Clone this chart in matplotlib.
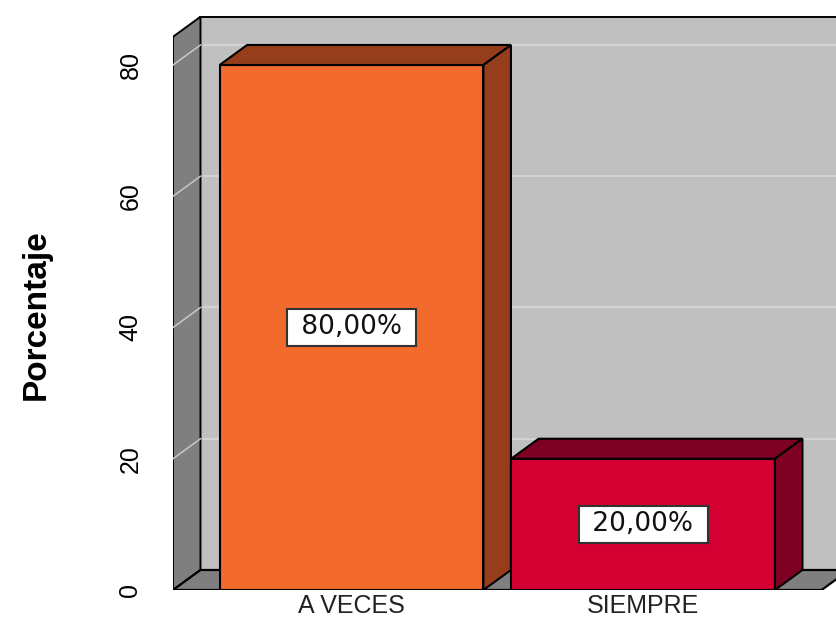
import matplotlib.pyplot as plt
from matplotlib.patches import Polygon

categorias = ['A VECES', 'SIEMPRE']
porcentajes = [80.0, 20.0]
colores_frente = ['#F26A2C', '#D40032']
colores_lado = ['#963E1B', '#7E0022']
marcas_y = [0, 20, 40, 60, 80]

# geometria de la caja 3D (unidades de datos)
ancho = 0.905
dx, dy = 0.0943, 3.05
ymax = 84.3
xlo, xhi = -0.6125, 1.6125

fig = plt.figure(figsize=(8.37, 6.23), dpi=100)
ax = fig.add_axes([173 / 837, 33 / 623, 664 / 837, 590 / 623])
ax.set_xlim(xlo, xlo + 664 / 291.5)
ax.set_ylim(0, 590 / 6.5625)
ax.set_facecolor('none')
for s in ax.spines.values():
    s.set_visible(False)

# pared del fondo
ax.add_patch(Polygon([(xlo + dx, dy), (xhi + dx, dy), (xhi + dx, ymax + dy), (xlo + dx, ymax + dy)],
                     closed=True, fc='#C0C0C0', ec='black', lw=1.4, zorder=1))
for v in marcas_y[1:]:
    ax.plot([xlo + dx, xhi + dx], [v + dy, v + dy], color='#D4D4D4', lw=1.3, zorder=2)

# pared lateral
ax.add_patch(Polygon([(xlo, 0), (xlo + dx, dy), (xlo + dx, ymax + dy), (xlo, ymax)],
                     closed=True, fc='#7F7F7F', ec='black', lw=1.4, zorder=3))
for v in marcas_y[1:]:
    ax.plot([xlo, xlo + dx], [v, v + dy], color='#C8C8C8', lw=1.1, zorder=4)

# suelo
ax.add_patch(Polygon([(xlo, 0), (xhi, 0), (xhi + dx, dy), (xlo + dx, dy)],
                     closed=True, fc='#7F7F7F', ec='black', lw=1.6, zorder=5))

# barras
for i, v in enumerate(porcentajes):
    x0 = i - ancho / 2
    x1 = i + ancho / 2
    z = 6 + i * 3
    ax.add_patch(Polygon([(x0, 0), (x1, 0), (x1, v), (x0, v)],
                         closed=True, fc=colores_frente[i], ec='black', lw=1.5, zorder=z))
    ax.add_patch(Polygon([(x0, v), (x1, v), (x1 + dx, v + dy), (x0 + dx, v + dy)],
                         closed=True, fc=colores_lado[i], ec='black', lw=1.5, zorder=z + 1))
    ax.add_patch(Polygon([(x1, 0), (x1 + dx, dy), (x1 + dx, v + dy), (x1, v)],
                         closed=True, fc=colores_lado[i], ec='black', lw=1.5, zorder=z + 1))
    etiqueta = f'{v:.2f}'.replace('.', ',') + '%'
    ax.text(i, v / 2, ' ' + etiqueta + ' ', ha='center', va='center', fontsize=19,
            family='DejaVu Sans', color='#111111', zorder=20,
            bbox=dict(boxstyle='square,pad=0.22', fc='white', ec='#333333', lw=1.5))

ax.set_yticks(marcas_y)
ax.set_yticklabels([str(m) for m in marcas_y], rotation=90, va='center', fontsize=18,
                   family='Liberation Sans')
ax.tick_params(axis='y', length=0, pad=22)
ax.set_xticks(range(len(categorias)))
ax.set_xticklabels(categorias, fontsize=18, family='Liberation Sans', color='#222222')
ax.tick_params(axis='x', length=0, pad=3)

ax.set_ylabel('Porcentaje', fontsize=24, fontweight='bold', family='Liberation Sans')
ax.yaxis.set_label_coords(-0.182, 0.466)

fig.savefig('out.png', dpi=100)
